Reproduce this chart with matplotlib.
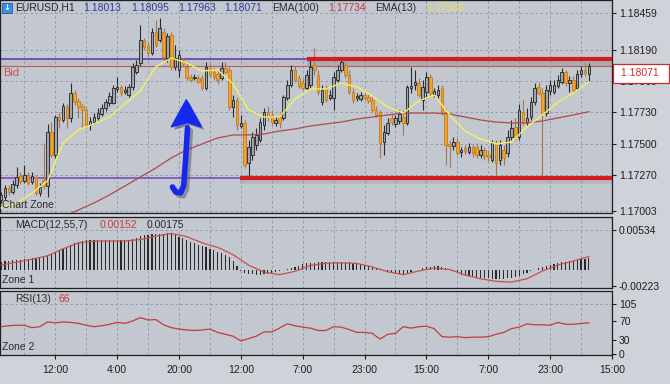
import numpy as np
import matplotlib
matplotlib.use("Agg")
import matplotlib.pyplot as plt
from matplotlib.patches import Polygon, Rectangle
import matplotlib.patheffects as pe

plt.rcParams['font.family'] = ['Liberation Sans', 'DejaVu Sans']
plt.rcParams['font.size'] = 7.5

# EURUSD H1 candles, in points (1e-5) above 1.17000
BASE = 1.17
opens = [85, 107, 173, 144, 196, 261, 225, 269, 217, 254, 137, 232, 188, 585, 416, 695, 673, 769, 688, 871,
         813, 776, 747, 636, 658, 688, 717, 761, 798, 798, 901, 916, 879, 857, 916, 1026, 1092, 1261, 1217, 1165,
         1320, 1261, 1320, 1129, 1298, 1063, 1041, 1107, 1063, 989, 982, 982, 982, 908, 1055, 1026, 1011, 982, 1055, 1041,
         769, 820, 629, 651, 357, 416, 489, 526, 636, 732, 710, 651, 695, 688, 835, 930, 1041, 982, 945, 908,
         930, 1077, 1004, 805, 908, 835, 835, 967, 1041, 1077, 1004, 879, 835, 827, 857, 842, 820, 747, 732, 511,
         577, 688, 644, 666, 695, 651, 908, 930, 945, 820, 879, 989, 864, 857, 908, 732, 497, 482, 511, 438,
         467, 438, 475, 475, 416, 453, 416, 379, 504, 379, 453, 430, 548, 622, 548, 732, 658, 695, 805, 916,
         871, 724, 886, 879, 923, 952, 1026, 945, 967, 908, 1011, 1041, 1013]
closes = [122, 173, 144, 203, 254, 225, 269, 210, 261, 137, 181, 188, 585, 416, 695, 673, 776, 688, 871, 805,
          769, 747, 636, 666, 695, 724, 761, 805, 849, 908, 916, 871, 894, 916, 1063, 1077, 1261, 1210, 1165, 1320,
          1224, 1349, 1136, 1290, 1063, 1129, 1151, 1085, 982, 967, 989, 952, 908, 1063, 1004, 989, 967, 1055, 1026, 769,
          820, 636, 651, 342, 475, 548, 563, 658, 732, 695, 658, 673, 651, 842, 930, 1041, 967, 923, 908, 1004,
          1063, 1041, 879, 894, 820, 857, 989, 1041, 1099, 1004, 879, 820, 849, 857, 835, 813, 747, 710, 504, 585,
          651, 658, 688, 717, 651, 916, 923, 952, 857, 916, 989, 871, 886, 894, 732, 489, 482, 511, 430, 453,
          445, 475, 430, 416, 453, 408, 401, 504, 357, 489, 394, 548, 614, 548, 747, 658, 688, 805, 908, 871,
          724, 894, 930, 930, 967, 1026, 945, 967, 894, 1011, 1041, 1018, 1071]
highs = [144, 196, 196, 232, 328, 291, 342, 291, 291, 269, 210, 504, 644, 658, 710, 732, 798, 791, 945, 894,
         835, 798, 769, 695, 724, 761, 791, 827, 879, 930, 989, 930, 923, 938, 1092, 1114, 1371, 1276, 1246, 1349,
         1408, 1423, 1349, 1312, 1320, 1224, 1188, 1129, 1099, 1011, 1011, 1004, 1004, 1099, 1092, 1055, 1041, 1099, 1099, 1063,
         857, 842, 710, 673, 526, 585, 614, 688, 761, 776, 747, 702, 724, 857, 967, 1077, 1070, 1004, 982, 1041,
         1136, 1202, 1041, 930, 930, 894, 1026, 1077, 1129, 1099, 1041, 908, 871, 879, 879, 864, 849, 776, 747, 636,
         688, 717, 710, 747, 747, 930, 1063, 1041, 982, 967, 1026, 1011, 908, 930, 930, 761, 526, 548, 541, 475,
         489, 504, 497, 504, 489, 475, 453, 526, 526, 526, 489, 600, 673, 688, 791, 820, 761, 842, 945, 952,
         908, 930, 967, 967, 1004, 1055, 1041, 996, 996, 1041, 1070, 1092, 1095]
lows = [63, 85, 122, 129, 173, 203, 210, 196, 203, 122, 115, 166, 107, 401, 394, 614, 658, 614, 658, 783,
        688, 622, 622, 600, 644, 673, 702, 739, 776, 791, 879, 849, 864, 842, 894, 1011, 1070, 1188, 1143, 1151,
        1210, 1246, 1099, 1099, 1041, 1041, 989, 1063, 967, 952, 967, 945, 894, 894, 989, 967, 938, 967, 1011, 747,
        695, 600, 614, 320, 254, 379, 453, 511, 600, 666, 636, 629, 614, 673, 820, 916, 952, 908, 894, 894,
        908, 1004, 857, 783, 805, 820, 747, 952, 1026, 982, 864, 798, 813, 813, 820, 798, 732, 695, 394, 416,
        563, 636, 622, 644, 563, 636, 871, 894, 842, 747, 835, 849, 842, 835, 710, 342, 328, 453, 416, 401,
        423, 423, 401, 394, 394, 379, 364, 364, 269, 342, 342, 401, 526, 526, 526, 636, 636, 673, 783, 857,
        247, 702, 857, 864, 908, 938, 923, 879, 879, 894, 989, 996, 963]

# moving averages, one value every 4 candles (points above 1.17000)
ema13 = [26, 63, 137, 225, 504, 600, 644, 695, 791, 886, 1063, 1129, 1092, 1033, 1041, 938, 747, 695, 695, 827,
         901, 901, 945, 916, 849, 769, 724, 813, 857, 710, 592, 533, 497, 511, 622, 710, 805, 871, 952]
ema100 = [-209, -172, -128, -91, -40, 12, 63, 122, 188, 254, 320, 394, 453, 497, 541, 563, 563, 570, 592, 607,
          629, 644, 658, 680, 695, 710, 724, 724, 724, 717, 695, 673, 658, 651, 651, 666, 688, 710, 734]

# MACD(12,55,7): histogram per candle, signal every 4 candles (units 1e-5)
macd_hist = [105, 110, 116, 122, 128, 134, 140, 146, 152, 158, 165, 173, 190, 208, 227, 252, 278, 304, 330, 358,
             372, 386, 400, 400, 400, 398, 396, 396, 398, 400, 400, 400, 400, 400, 415, 432, 449, 466, 470, 474,
             478, 482, 486, 489, 475, 460, 443, 420, 398, 376, 354, 336, 318, 300, 281, 263, 240, 218, 196, 173,
             120, 50, -20, -50, -60, -65, -68, -70, -65, -58, -50, -35, -20, -5, 5, 20, 36, 52, 68, 84,
             88, 92, 96, 100, 105, 105, 105, 105, 105, 100, 95, 90, 84, 70, 58, 45, 32, 20, 2, -15,
             -32, -50, -57, -64, -70, -50, -30, -10, 0, 20, 28, 36, 44, 50, 32, 14, -4, -20, -45, -70,
             -80, -90, -100, -110, -113, -116, -119, -122, -125, -128, -130, -120, -110, -100, -90, -66, -43, -20, -2, 15,
             32, 50, 65, 80, 88, 96, 104, 112, 120, 128, 136, 144, 152]
macd_signal = [60, 100, 140, 185, 280, 360, 385, 385, 385, 405, 450, 488, 445, 360, 300, 200, 60, -35, -70, -25,
               55, 85, 90, 82, 35, -30, -70, -20, 20, 0, -75, -125, -160, -170, -125, -20, 60, 115, 175]

# RSI(13), one value every 2 candles
rsi = [58, 60, 61, 61, 56, 58, 68, 66, 68, 67, 65, 61, 58, 60, 63, 67, 65, 70, 77, 72,
       73, 62, 56, 53, 51, 50, 51, 53, 46, 42, 38, 28, 33, 38, 47, 47, 55, 64, 60, 57,
       55, 50, 50, 58, 57, 52, 46, 46, 44, 32, 42, 44, 58, 55, 58, 59, 54, 37, 36, 37,
       35, 36, 36, 37, 42, 46, 54, 57, 64, 62, 62, 61, 67, 63, 63, 65, 66]

time_labels = ['12:00', '4:00', '20:00', '12:00', '7:00', '23:00', '15:00', '7:00', '23:00', '15:00']
price_ticks = [1.18459, 1.18190, 1.17960, 1.17730, 1.17500, 1.17270, 1.17003]
resistance = 1.18125
support = 1.17245
bid = 1.18071

o = BASE + np.array(opens) / 1e5
c = BASE + np.array(closes) / 1e5
h = BASE + np.array(highs) / 1e5
l = BASE + np.array(lows) / 1e5
x = np.arange(len(o))
x4 = np.arange(0, len(o), 4)
x2 = np.arange(0, len(o), 2)

W, H = 670, 384
fig = plt.figure(figsize=(W / 100, H / 100), dpi=100)
fig.patch.set_facecolor('#cfd2d8')


def box(top, bottom):
    return [0, 1 - bottom / H, 612 / W, (bottom - top) / H]


def px(xp, yp):
    return xp / W, 1 - yp / H


ax = fig.add_axes(box(0, 213))
axm = fig.add_axes(box(217, 288))
axr = fig.add_axes(box(291, 355))

grid_pos = np.arange(6, 160, 8)
label_pos = np.arange(14, 160, 16)
gkw = dict(color='#8995aa', lw=0.6, ls=(0, (3, 3)))

for a in (ax, axm, axr):
    a.set_facecolor('#c3c7d0')
    a.set_xlim(-0.3, 158)
    for s in a.spines.values():
        s.set_color('#1e1e1e')
        s.set_linewidth(0.9)
    a.yaxis.tick_right()
    a.tick_params(axis='y', direction='out', length=3, width=0.8, pad=2,
                  colors='#1e1e1e', labelsize=7.5)
    for g in grid_pos:
        a.axvline(g, zorder=0.5, **gkw)
    a.set_axisbelow(True)

# ---- main chart ----
ax.set_ylim(BASE - 0.000106, 1.18555)
ax.set_yticks(price_ticks)
ax.set_yticklabels(['%.5f' % v for v in price_ticks])
for v in price_ticks:
    ax.axhline(v, zorder=0.5, **gkw)
ax.set_xticks([])

# shaded bands near the levels
ax.fill_between([79.2, 158], bid, resistance, color='#80848c', alpha=0.4, lw=0, zorder=0.6)
ax.fill_between([-0.3, 79.2], bid, resistance, color='#8a8e96', alpha=0.12, lw=0, zorder=0.6)
ax.fill_between([61.7, 158], support - 0.0004, support, color='#80848c', alpha=0.22, lw=0, zorder=0.6)

ax.hlines(resistance - 0.00005, -0.3, 79.2, color='#6a3cae', lw=1.2, zorder=1)
ax.hlines(support, -0.3, 61.7, color='#7a4cc0', lw=1.2, zorder=1)
ax.hlines(bid, -0.3, 158, color='#c25a5a', lw=0.8, zorder=1)

up = c >= o
body_lo = np.minimum(o, c)
body_h = np.maximum(np.abs(c - o), 0.000015)
ax.vlines(x[up], l[up], h[up], color='#2a2a2a', lw=0.8, zorder=2)
ax.vlines(x[~up], l[~up], h[~up], color='#a8764c', lw=0.8, zorder=2)
ax.bar(x[up], body_h[up], bottom=body_lo[up], width=0.66, color='#a0a5ad',
       edgecolor='#222222', lw=0.6, zorder=3)
ax.bar(x[~up], body_h[~up], bottom=body_lo[~up], width=0.66, color='#f2a32a',
       edgecolor='#c47c1c', lw=0.6, zorder=3)

ax.plot(x4, BASE + np.array(ema100) / 1e5, color='#b04a4a', lw=0.9, zorder=4)
ax.plot(x4, BASE + np.array(ema13) / 1e5, color='#f4f25c', lw=1.0, zorder=4)

# thick red levels drawn over the candles
ax.hlines(resistance, 79.2, 158, color='#d41c1c', lw=3, zorder=5)
ax.hlines(support, 61.7, 158, color='#d41c1c', lw=3, zorder=5)

# blue hook arrow
shadow = [pe.SimpleLineShadow(offset=(2, -2), shadow_color='#555555', alpha=0.5), pe.Normal()]
ax.plot([48.2, 47.7, 47.2, 46.4, 45.1, 44.3],
        BASE + np.array([614, 379, 188, 137, 144, 181]) / 1e5,
        color='#1428ee', lw=4, solid_capstyle='round', zorder=6, path_effects=shadow)
head = Polygon([(44.0, BASE + 0.00622), (47.9, BASE + 0.00822), (51.8, BASE + 0.00622),
                (48.2, BASE + 0.00655)], closed=True, facecolor='#1428ee', edgecolor='#1428ee',
               zorder=6, path_effects=[pe.SimplePatchShadow(offset=(2, -2), alpha=0.4), pe.Normal()])
ax.add_patch(head)

# current price label (box hangs below the bid line)
ax.annotate(' 1.18071  ', xy=(1, bid), xycoords=('axes fraction', 'data'),
            xytext=(4, -5.5), textcoords='offset points', va='center', ha='left',
            color='#cc2a2a', fontsize=7.5,
            bbox=dict(boxstyle='square,pad=0.45', facecolor='white', edgecolor='#cc2a2a', lw=0.9),
            annotation_clip=False, zorder=10)

# ---- MACD ----
axm.set_ylim(-0.0025, 0.0071)
axm.bar(x, np.array(macd_hist) / 1e5, width=0.3, color='#2a2a2a', zorder=2)
axm.plot(x4, np.array(macd_signal) / 1e5, color='#c8504a', lw=0.9, zorder=3)
axm.set_yticks([0.00534, -0.00223])
axm.set_yticklabels(['0.00534', '-0.00223'])
axm.axhline(0.00534, zorder=0.5, **gkw)
axm.set_xticks([])

# ---- RSI ----
axr.set_ylim(-1.5, 133)
axr.plot(x2, rsi, color='#c43c3c', lw=0.9, zorder=3)
axr.set_yticks([105, 70, 30, 0])
axr.set_yticklabels(['105', '70', '30', '0'])
axr.axhline(105, zorder=0.5, **gkw)
axr.set_xticks(label_pos)
axr.set_xticklabels(time_labels)
axr.tick_params(axis='x', direction='out', length=3, width=0.8, pad=4,
                colors='#1e1e1e', labelsize=7.5)

# ---- header texts ----
fig.patches.append(Rectangle(px(2, 13), 10 / W, 10 / H, transform=fig.transFigure,
                             facecolor='#3f8ee0', edgecolor='#1f5aa8', lw=0.6))
fig.text(*px(7, 8), '↓', color='white', fontsize=6, ha='center', va='center',
         fontweight='bold', family='DejaVu Sans')
head_items = [(15, 'EURUSD,H1', '#1c2233'), (83, '1.18013', '#2b3a9c'), (131, '1.18095', '#2b3a9c'),
              (178, '1.17963', '#2b3a9c'), (224, '1.18071', '#2b3a9c'), (272, 'EMA(100)', '#2a2a2a'),
              (328, '1.17734', '#c83a3a'), (375, 'EMA(13)', '#2a2a2a'), (426, '1.17953', '#e8e448')]
for xp, s, col in head_items:
    fig.text(*px(xp, 8), s, color=col, fontsize=7.5, va='center')

fig.text(*px(3, 73), 'Bid', color='#c85050', fontsize=8, va='center')
fig.text(*px(2, 205), 'Chart Zone', color='#2a2a2a', fontsize=7.5, va='center')
fig.text(*px(15, 225), 'MACD(12,55,7)', color='#2a2a2a', fontsize=7.5, va='center')
fig.text(*px(100, 225), '0.00152', color='#c83a3a', fontsize=7.5, va='center')
fig.text(*px(147, 225), '0.00175', color='#2a2a2a', fontsize=7.5, va='center')
fig.text(*px(2, 280), 'Zone 1', color='#2a2a2a', fontsize=7.5, va='center')
fig.text(*px(15, 299), 'RSI(13)', color='#2a2a2a', fontsize=7.5, va='center')
fig.text(*px(59, 299), '66', color='#c83a3a', fontsize=7.5, va='center')
fig.text(*px(2, 347), 'Zone 2', color='#2a2a2a', fontsize=7.5, va='center')

fig.savefig('out.png', dpi=100, facecolor=fig.get_facecolor())
